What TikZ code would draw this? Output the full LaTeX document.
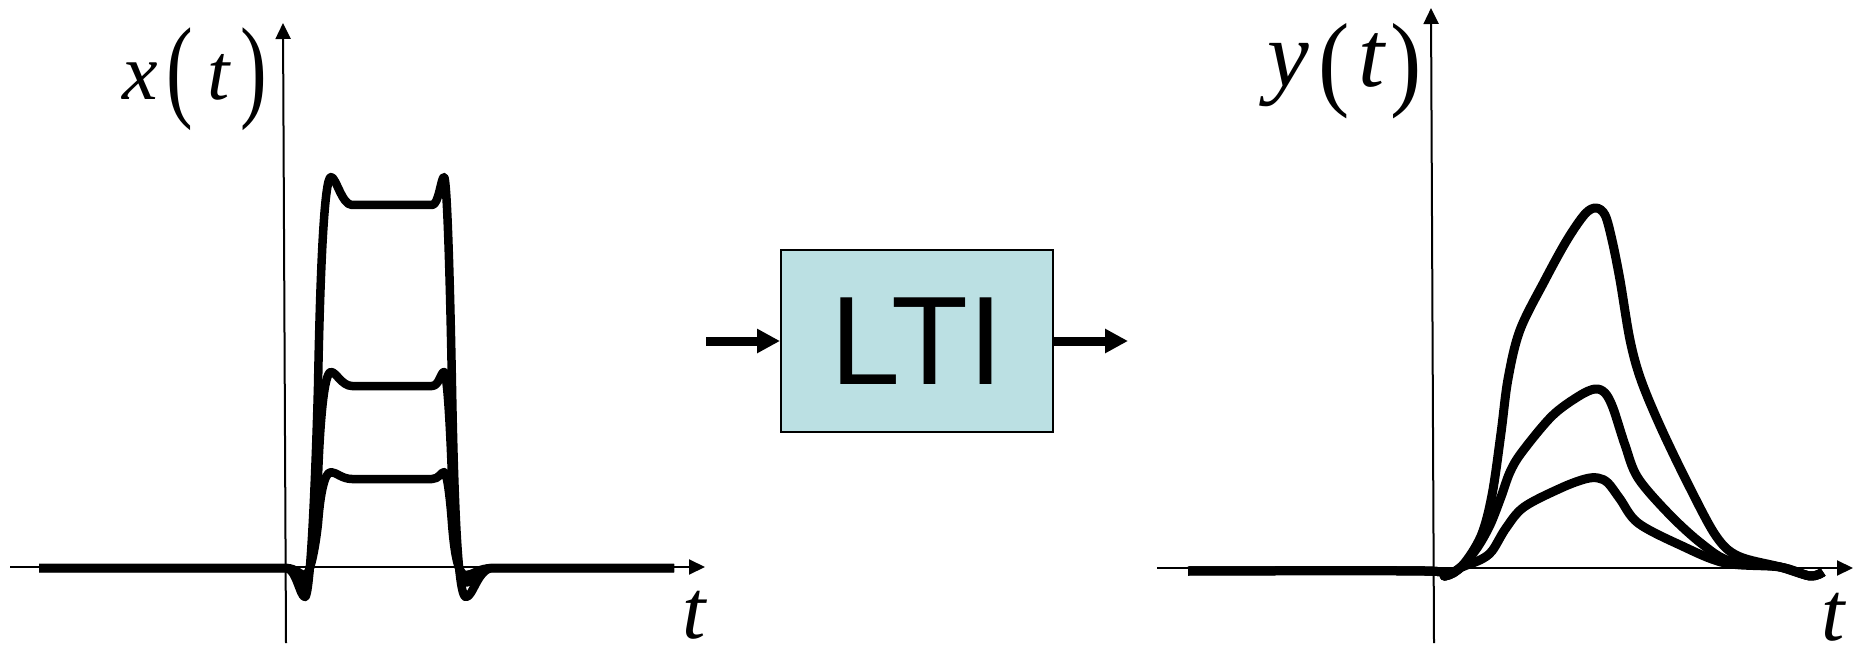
\documentclass[tikz,border=0pt]{standalone}
\usepackage{graphicx}
\usepackage{fontspec}
\setmainfont{Liberation Serif}
\newfontfamily\ltifont{Liberation Sans}
\usetikzlibrary{arrows.meta}
\definecolor{ltiblue}{RGB}{187,224,227}
\newcommand{\pulseshape}{(39,0) -- (286,0) .. controls (296,0) and (300,-0.08) .. (305,-0.08) .. controls (310,-0.08) and (315,0.2) .. (318,0.5) .. controls (320,0.8) and (324,1.077) .. (331,1.077) .. controls (336,1.077) and (342,1.0) .. (352,1.0) -- (432,1.0) .. controls (439,1.0) and (441,1.077) .. (444,1.077) .. controls (447,1.077) and (450,0.8) .. (452,0.5) .. controls (455,0.05) and (460,-0.08) .. (466,-0.08) .. controls (473,-0.08) and (478,0) .. (493,0) -- (674,0)}
\newcommand{\bigparL}[2]{\raisebox{#2}{\scalebox{1}[#1]{\upshape(}}}
\newcommand{\bigparR}[2]{\raisebox{#2}{\scalebox{1}[#1]{\upshape)}}}
\begin{document}
\begin{tikzpicture}[x=1pt,y=-1pt,
  axis/.style={line width=2pt,-{Triangle[length=16pt,width=15pt]}},
  sig/.style={line width=8.5pt,line join=round},
  ysig/.style={line width=9pt,line join=round},
  flow/.style={line width=9pt,-{Triangle[length=23pt,width=23pt]}},
  lbl/.style={inner sep=0pt,anchor=base west}]
\useasboundingbox (0,0) rectangle (1855,647);
% left axes
\coordinate (lx0) at (10,567);
\coordinate (lx1) at (705,567);
\coordinate (ly0) at (286,643);
\coordinate (ly1) at (283,23);
\draw[axis] (lx0) -- (lx1);
\draw[axis] (ly0) -- (ly1);
% left pulses
\foreach \amp in {89,182,363}{
  \begin{scope}[yshift=-568pt,y=\amp pt]
    \draw[sig] \pulseshape;
  \end{scope}
}
% labels left
\node[lbl] (xlab) at (122,100) {\fontsize{80}{80}\selectfont\itshape x\kern8.7pt\bigparL{1.42}{-7pt}\kern14.2pt t\kern11.5pt\bigparR{1.42}{-7pt}};
\node[lbl] (tlab1) at (682,638) {\fontsize{84}{84}\selectfont\itshape t};
% LTI block
\node[draw,fill=ltiblue,line width=2pt,minimum width=272pt,minimum height=182pt,inner sep=0pt] (lti) at (917,341) {\ltifont\fontsize{126}{126}\selectfont LTI};
\coordinate (inp) at (706,341);
\coordinate (outp) at (1128,341);
\draw[flow] (inp) -- (lti.west);
\draw[flow] (lti.east) -- (outp);
% right axes
\coordinate (rx0) at (1157,568);
\coordinate (rx1) at (1853,568);
\coordinate (ry0) at (1434,643);
\coordinate (ry1) at (1431,8);
\draw[axis] (rx0) -- (rx1);
\draw[axis] (ry0) -- (ry1);
% right responses
\draw[ysig] plot[smooth,tension=0.55] coordinates {(1188,571) (1425,571) (1445,576) (1462,566) (1481,536) (1492,495) (1501,433) (1508,379) (1520,330) (1545,280) (1567,240) (1585,214) (1596,208) (1605,215) (1612,240) (1620,280) (1630,340) (1641,380) (1661,428) (1689,486) (1716,536) (1738,556) (1780,567) (1810,576) (1823,572)};
\draw[ysig] plot[smooth,tension=0.55] coordinates {(1188,571) (1425,571) (1445,576) (1462,566) (1477,548) (1490,525) (1501,497) (1510,472) (1522,452) (1552,416) (1579,396) (1595,389) (1605,393) (1613,408) (1625,445) (1638,478) (1670,515) (1702,544) (1730,561) (1780,567) (1810,576) (1823,572)};
\draw[ysig] plot[smooth,tension=0.55] coordinates {(1188,571) (1425,571) (1445,576) (1462,567) (1480,560) (1492,551) (1506,528) (1524,507) (1561,488) (1585,479) (1598,478) (1608,483) (1620,499) (1638,523) (1680,545) (1725,563) (1780,567) (1810,576) (1823,572)};
% labels right
\node[lbl] (ylab) at (1267,87) {\fontsize{94}{94}\selectfont\itshape y\kern9.8pt\bigparL{1.12}{-10pt}\kern8.2pt t\kern6.2pt\bigparR{1.12}{-10pt}};
\node[lbl] (tlab2) at (1821,640) {\fontsize{84}{84}\selectfont\itshape t};
\end{tikzpicture}
\end{document}
